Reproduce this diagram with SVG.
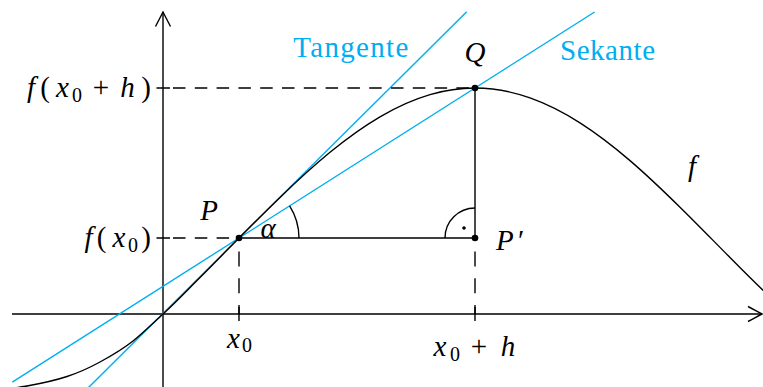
<svg xmlns="http://www.w3.org/2000/svg" width="763" height="387" viewBox="0 0 763 387">
<style>
.ln{stroke:#000;stroke-width:1.4;fill:none}
.cy{stroke:#00AEEF;stroke-width:1.4;fill:none}
.dh{stroke:#000;stroke-width:1.4;fill:none;stroke-dasharray:12.5 9.3}
.dv{stroke:#000;stroke-width:1.4;fill:none;stroke-dasharray:15 11.7}
text{font-family:'Liberation Serif','DejaVu Serif',serif}
.m{font-style:italic;font-size:29px;fill:#000}
.r{font-style:normal}
.s{font-style:normal;font-size:20px}
.t{font-size:29px;fill:#00AEEF}
.dot{fill:#000}
</style>
<rect width="763" height="387" fill="#fff"/>
<g id="axes">
<path class="ln" d="M12,314 H762"/>
<path class="ln" d="M748,306.5 C753,309 758,312 762,314 C758,316 753,319 748,321.5"/>
<path class="ln" d="M163,387 V12"/>
<path class="ln" d="M155.5,26.5 C158,21.5 161,16 163,12 C165,16 168,21.5 170.5,26.5"/>
<path class="ln" d="M156.5,88 H170 M156.5,238 H170 M239,307 V321 M475,307 V321"/>
</g>
<g id="connectors">
<path class="cy" d="M466.7,11.7 L85,391"/>
<path class="cy" d="M12.3,382.1 L594.6,12"/>
<path class="ln" d="M5,389.3 C12.3,388.4 19.7,387.3 27,386 C40.3,383.6 53.7,380.9 67,376.5 C78,372.9 89,368 100,362 C111,356 122,349.8 133,341 C143,333 153,323.1 163,314 C175.3,302.8 187.7,289.7 200,277.5 C213,264.6 226,251.2 239,238 C252.7,224.2 266.3,210.6 280,197.4 C296.7,181.3 313.3,166 330,152.3 C346.7,138.6 363.3,126.6 380,116.8 C396.7,107 413.3,99.5 430,94.6 C445,90.2 460,88 475,88 C493.3,88 511.7,91.4 530,97.9 C546.7,103.8 563.3,112.2 580,122.9 C596.7,133.6 613.3,146.3 630,160.6 C646.7,174.9 663.3,190.8 680,207.2 C696.7,223.6 713.3,240.7 730,257.5 C743.3,271 756.7,284.3 770,297"/>
<path class="dh" d="M173,88 H472"/>
<path class="dh" d="M173,238 H236"/>
<path class="dv" d="M239,251.5 V314"/>
<path class="dv" d="M475,251.5 V314"/>
<path class="ln" d="M239,238 H475 V88"/>
<path class="ln" d="M299,238 A60,60 0 0 0 289.6,205.8"/>
<path class="ln" d="M445,238 A30,30 0 0 1 475,208"/>
<circle class="dot" cx="464" cy="228" r="1.8"/>
</g>
<g id="node-P">
<circle class="dot" cx="239" cy="238" r="3.3"/>
<text class="m" x="209" y="220" text-anchor="middle">P</text>
</g>
<g id="node-Q">
<circle class="dot" cx="475" cy="88" r="3.3"/>
<text class="m" x="475" y="62" text-anchor="middle">Q</text>
</g>
<g id="node-P2">
<circle class="dot" cx="475" cy="238" r="3.3"/>
<text class="m" y="250"><tspan x="496">P</tspan><tspan x="518" class="r">′</tspan></text>
</g>
<g id="label-alpha">
<text class="m" x="268" y="237.5" text-anchor="middle">α</text>
</g>
<g id="label-f">
<text class="m" x="692" y="176" text-anchor="middle">f</text>
</g>
<g id="label-tangente">
<text class="t" x="293.3" y="56.7" textLength="115" lengthAdjust="spacing">Tangente</text>
</g>
<g id="label-sekante">
<text class="t" x="560" y="60" textLength="95" lengthAdjust="spacing">Sekante</text>
</g>
<g id="label-fx0h">
<text class="m" y="96.5" text-anchor="middle"><tspan x="31">f</tspan><tspan x="45" class="r">(</tspan><tspan x="62.5">x</tspan><tspan x="77" y="101.5" class="s">0</tspan><tspan x="101" y="96.5" class="r">+</tspan><tspan x="127.5">h</tspan><tspan x="146" class="r">)</tspan></text>
</g>
<g id="label-fx0">
<text class="m" y="246.5" text-anchor="middle"><tspan x="88.5">f</tspan><tspan x="101.5" class="r">(</tspan><tspan x="119">x</tspan><tspan x="133" y="251.5" class="s">0</tspan><tspan x="146" y="246.5" class="r">)</tspan></text>
</g>
<g id="label-x0">
<text class="m" y="347.5" text-anchor="middle"><tspan x="233.5">x</tspan><tspan x="247" y="352" class="s">0</tspan></text>
</g>
<g id="label-x0h">
<text class="m" y="356" text-anchor="middle"><tspan x="440">x</tspan><tspan x="455" y="360.5" class="s">0</tspan><tspan x="479" y="356" class="r">+</tspan><tspan x="508">h</tspan></text>
</g>
</svg>
